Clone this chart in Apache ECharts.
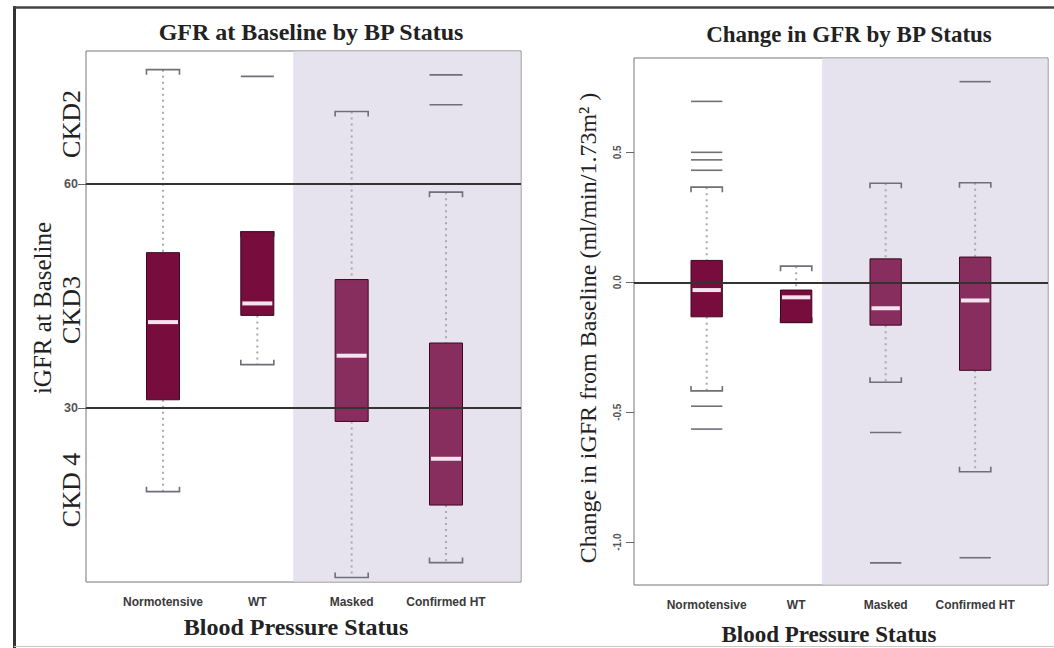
<!DOCTYPE html>
<html>
<head>
<meta charset="utf-8">
<title>GFR by BP Status</title>
<script src="https://cdn.jsdelivr.net/npm/echarts@6/dist/echarts.min.js"></script>
<style>
  html, body { margin: 0; padding: 0; background: #fff; }
  #chart { width: 1054px; height: 648px; }
</style>
</head>
<body>
<div id="chart"></div>
<script>
// ---- data ----
const categories = ['Normotensive', 'WT', 'Masked', 'Confirmed HT'];

// iGFR at baseline (ml/min/1.73m²)
const baseLow  = [18.8, 35.8,  7.3,  9.3];
const baseQ1   = [31.1, 42.4, 28.2, 17.0];
const baseMed  = [41.5, 44.0, 37.0, 23.2];
const baseQ3   = [50.8, 53.6, 47.2, 38.7];
const baseHigh = [75.3, 53.6, 69.7, 58.9];
const baseOutliers = [[], [74.4], [], [74.6, 70.6]];
const baseTicks = [30, 60];
const ckdCuts = [30, 60];

// change in iGFR from baseline
const chgLow  = [-0.418, -0.155, -0.385, -0.729];
const chgQ1   = [-0.133, -0.155, -0.165, -0.339];
const chgMed  = [-0.030, -0.058, -0.100, -0.070];
const chgQ3   = [ 0.084, -0.030,  0.090,  0.097];
const chgHigh = [ 0.366,  0.062,  0.381,  0.383];
const chgOutliers = [
  [0.696, 0.500, 0.471, 0.431, -0.477, -0.565],
  [],
  [-0.578, -1.080],
  [0.772, -1.060]
];
const chgTicks = [-1.0, -0.5, 0.0, 0.5];
const chgRef = [0];

// ---- styling ----
const SERIF = '"Liberation Serif", "Times New Roman", serif';
const SANS = '"Liberation Sans", Arial, sans-serif';
const BOX_FILL = ['#780d3d', '#780d3d', '#872e5f', '#872e5f'];
const BOX_EDGE = '#3e0820';
const MEDIAN = '#f5e4ef';
const WHISKER = '#aaa8b2';
const CAP = '#6f6f78';
const SHADE = '#e6e3ef';
const BOX_HALF = 0.175;

function boxData(lo, q1, md, q3, hi) {
  return categories.map((c, i) => [i + 1, lo[i], q1[i], md[i], q3[i], hi[i]]);
}
function outlierData(list) {
  const out = [];
  list.forEach((vals, i) => vals.forEach(v => out.push([i + 1, v])));
  return out;
}

function renderBox(params, api) {
  const i = params.dataIndex;
  const x = api.value(0);
  const lo = api.coord([x, api.value(1)]);
  const q1 = api.coord([x, api.value(2)]);
  const md = api.coord([x, api.value(3)]);
  const q3 = api.coord([x, api.value(4)]);
  const hi = api.coord([x, api.value(5)]);
  const left = api.coord([x - BOX_HALF, api.value(3)])[0];
  const right = api.coord([x + BOX_HALF, api.value(3)])[0];
  const cx = lo[0];
  const tick = 5;
  const dotted = { stroke: WHISKER, lineWidth: 2, lineDash: [2, 4], fill: null };
  const capStyle = { stroke: CAP, lineWidth: 1.6, fill: null };
  return {
    type: 'group',
    children: [
      { type: 'line', shape: { x1: cx, y1: hi[1], x2: cx, y2: q3[1] }, style: dotted },
      { type: 'line', shape: { x1: cx, y1: q1[1], x2: cx, y2: lo[1] }, style: dotted },
      { type: 'polyline', shape: { points: [[left, hi[1] + tick], [left, hi[1]], [right, hi[1]], [right, hi[1] + tick]] }, style: capStyle },
      { type: 'polyline', shape: { points: [[left, lo[1] - tick], [left, lo[1]], [right, lo[1]], [right, lo[1] - tick]] }, style: capStyle },
      { type: 'rect', shape: { x: left, y: q3[1], width: right - left, height: q1[1] - q3[1] },
        style: { fill: BOX_FILL[i], stroke: BOX_EDGE, lineWidth: 1 } },
      { type: 'rect', shape: { x: left + 1.5, y: md[1] - 2, width: right - left - 3, height: 4 },
        style: { fill: MEDIAN } }
    ]
  };
}

function renderOutlier(params, api) {
  const x = api.value(0);
  const p = api.coord([x, api.value(1)]);
  const left = api.coord([x - BOX_HALF, api.value(1)])[0];
  const right = api.coord([x + BOX_HALF, api.value(1)])[0];
  return { type: 'line', shape: { x1: left, y1: p[1], x2: right, y2: p[1] },
           style: { stroke: CAP, lineWidth: 1.6 } };
}

function renderShade(params, api) {
  const cs = params.coordSys;
  const x0 = api.coord([api.value(0), 0])[0];
  return { type: 'rect',
           shape: { x: x0, y: cs.y + 0.5, width: cs.x + cs.width - x0 - 0.5, height: cs.height - 1 },
           style: { fill: SHADE } };
}

function xAxisFor(gridIndex, min, max) {
  return {
    type: 'value', gridIndex, min, max,
    axisLine: { show: false }, axisTick: { show: false }, splitLine: { show: false },
    axisLabel: {
      customValues: [1, 2, 3, 4],
      formatter: v => categories[Math.round(v) - 1],
      fontFamily: SANS, fontSize: 12, fontWeight: 'bold', color: '#3a3a3a', margin: 14
    }
  };
}

const chart = echarts.init(document.getElementById('chart'), null, { renderer: 'svg' });

chart.setOption({
  animation: false,
  backgroundColor: '#fff',
  grid: [
    { left: 86, top: 51, width: 435, height: 531, show: true, borderColor: '#777', borderWidth: 1, backgroundColor: 'transparent' },
    { left: 634, top: 58, width: 414, height: 527, show: true, borderColor: '#777', borderWidth: 1, backgroundColor: 'transparent' }
  ],
  xAxis: [
    xAxisFor(0, 0.184, 4.795),
    xAxisFor(1, 0.188, 4.814)
  ],
  yAxis: [
    {
      type: 'value', gridIndex: 0, min: 6.7, max: 77.8,
      axisLine: { show: false }, splitLine: { show: false },
      axisTick: { show: true, customValues: baseTicks, length: 8, lineStyle: { color: '#666', width: 1 } },
      axisLabel: { customValues: baseTicks, fontFamily: SANS, fontSize: 12.5, fontWeight: 'bold', color: '#555', margin: 8 }
    },
    {
      type: 'value', gridIndex: 1, min: -1.165, max: 0.863,
      axisLine: { show: false }, splitLine: { show: false },
      axisTick: { show: true, customValues: chgTicks, length: 8, lineStyle: { color: '#666', width: 1 } },
      axisLabel: { customValues: chgTicks, rotate: 90, fontFamily: SANS, fontSize: 10, fontWeight: 'bold', color: '#555', margin: 12,
                   formatter: v => v.toFixed(1) }
    }
  ],
  series: [
    { type: 'custom', xAxisIndex: 0, yAxisIndex: 0, z: 1, silent: true, renderItem: renderShade, data: [[2.38]] },
    { type: 'custom', xAxisIndex: 1, yAxisIndex: 1, z: 1, silent: true, renderItem: renderShade, data: [[2.29]] },
    { type: 'custom', xAxisIndex: 0, yAxisIndex: 0, z: 3, silent: true, renderItem: renderBox,
      data: boxData(baseLow, baseQ1, baseMed, baseQ3, baseHigh) },
    { type: 'custom', xAxisIndex: 1, yAxisIndex: 1, z: 3, silent: true, renderItem: renderBox,
      data: boxData(chgLow, chgQ1, chgMed, chgQ3, chgHigh) },
    { type: 'custom', xAxisIndex: 0, yAxisIndex: 0, z: 4, silent: true, renderItem: renderOutlier,
      data: outlierData(baseOutliers),
      markLine: { silent: true, symbol: ['none', 'none'], label: { show: false },
                  lineStyle: { color: '#333', width: 2, type: 'solid' },
                  data: ckdCuts.map(v => ({ yAxis: v })) } },
    { type: 'custom', xAxisIndex: 1, yAxisIndex: 1, z: 4, silent: true, renderItem: renderOutlier,
      data: outlierData(chgOutliers),
      markLine: { silent: true, symbol: ['none', 'none'], label: { show: false },
                  lineStyle: { color: '#333', width: 2, type: 'solid' },
                  data: chgRef.map(v => ({ yAxis: v })) } }
  ],
  graphic: [
    // outer frame
    { type: 'line', shape: { x1: 14.5, y1: 6, x2: 14.5, y2: 648 }, style: { stroke: '#333', lineWidth: 3 } },
    { type: 'line', shape: { x1: 13, y1: 7.5, x2: 1054, y2: 7.5 }, style: { stroke: '#444', lineWidth: 2.5 } },
    { type: 'line', shape: { x1: 14, y1: 646.5, x2: 1054, y2: 646.5 }, style: { stroke: '#c8c8c8', lineWidth: 1 } },
    // panel titles
    { type: 'text', x: 311, y: 32, style: { text: 'GFR at Baseline by BP Status', font: 'bold 24px ' + SERIF, fill: '#222', textAlign: 'center', textVerticalAlign: 'middle' } },
    { type: 'text', x: 849, y: 34, style: { text: 'Change in GFR by BP Status', font: 'bold 23px ' + SERIF, fill: '#222', textAlign: 'center', textVerticalAlign: 'middle' } },
    // axis titles
    { type: 'text', x: 296, y: 627, style: { text: 'Blood Pressure Status', font: 'bold 24px ' + SERIF, fill: '#222', textAlign: 'center', textVerticalAlign: 'middle' } },
    { type: 'text', x: 829, y: 634, style: { text: 'Blood Pressure Status', font: 'bold 23px ' + SERIF, fill: '#222', textAlign: 'center', textVerticalAlign: 'middle' } },
    { type: 'text', x: 42, y: 308, rotation: Math.PI / 2, style: { text: 'iGFR at Baseline', font: '25px ' + SERIF, fill: '#222', textAlign: 'center', textVerticalAlign: 'middle' } },
    { type: 'text', x: 588, y: 328, rotation: Math.PI / 2, style: { text: 'Change in iGFR from Baseline (ml/min/1.73m² )', font: '24px ' + SERIF, fill: '#222', textAlign: 'center', textVerticalAlign: 'middle' } },
    // CKD stage labels
    { type: 'text', x: 71, y: 124, rotation: Math.PI / 2, style: { text: 'CKD2', font: '26px ' + SERIF, fill: '#222', textAlign: 'center', textVerticalAlign: 'middle' } },
    { type: 'text', x: 71, y: 310, rotation: Math.PI / 2, style: { text: 'CKD3', font: '26px ' + SERIF, fill: '#222', textAlign: 'center', textVerticalAlign: 'middle' } },
    { type: 'text', x: 71, y: 490, rotation: Math.PI / 2, style: { text: 'CKD 4', font: '26px ' + SERIF, fill: '#222', textAlign: 'center', textVerticalAlign: 'middle' } }
  ]
});
</script>
</body>
</html>
